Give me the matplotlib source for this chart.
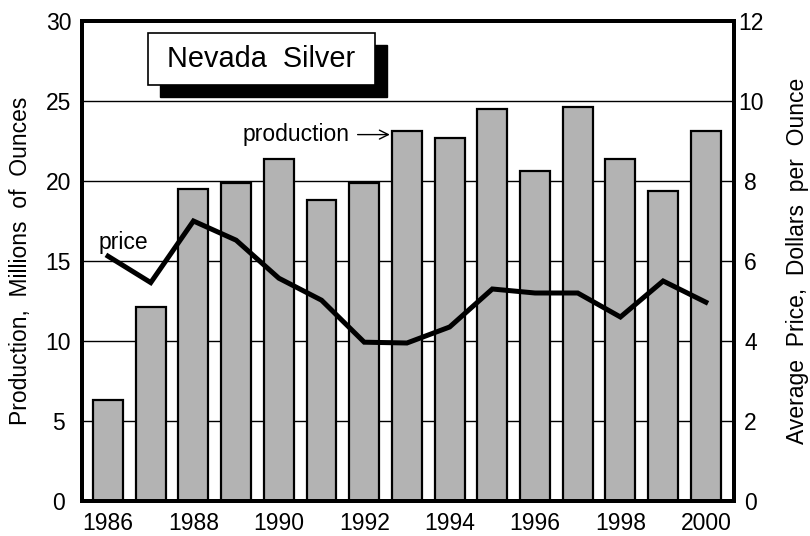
import matplotlib
matplotlib.use('Agg')
import matplotlib.pyplot as plt
from matplotlib.patches import Rectangle
import numpy as np

plt.rcParams['font.family'] = ['Liberation Sans', 'DejaVu Sans']

years = np.arange(1986, 2001)
production = [6.3, 12.1, 19.5, 19.9, 21.4, 18.8, 19.9, 23.1, 22.7, 24.5, 20.6, 24.6, 21.4, 19.4, 23.1]
price = [6.12, 5.46, 7.0, 6.52, 5.57, 5.02, 3.97, 3.95, 4.35, 5.3, 5.2, 5.2, 4.6, 5.5, 4.97]
year_ticks = [1986, 1988, 1990, 1992, 1994, 1996, 1998, 2000]

fig = plt.figure(figsize=(8.1, 5.36), dpi=100)
ax = fig.add_axes([82 / 810, 1 - 501 / 536, 652 / 810, 480 / 536])

for g in [5, 10, 15, 20, 25]:
    ax.axhline(g, color='black', lw=1.0, zorder=1)

ax.bar(years, production, width=0.7, color='#b3b3b3', edgecolor='black', lw=1.6, zorder=2)
ax.set_xlim(1985.39, 2000.66)
ax.set_ylim(0, 30)
ax.set_yticks([0, 5, 10, 15, 20, 25, 30])
ax.set_xticks(year_ticks)
ax.tick_params(axis='both', length=0, labelsize=16.5)
ax.tick_params(axis='y', pad=17)
ax.tick_params(axis='x', pad=8)
for lab in ax.get_yticklabels():
    lab.set_horizontalalignment('center')
for s in ax.spines.values():
    s.set_linewidth(2.8)
ax.set_ylabel('Production,  Millions  of  Ounces', fontsize=16.5, labelpad=10)

ax2 = ax.twinx()
ax2.plot(years, price, color='black', lw=3.6, solid_joinstyle='miter', zorder=3)
ax2.set_ylim(0, 12)
ax2.set_yticks([0, 2, 4, 6, 8, 10, 12])
ax2.tick_params(axis='y', length=0, labelsize=16.5, pad=12)
for lab in ax2.get_yticklabels():
    lab.set_horizontalalignment('center')
for s in ax2.spines.values():
    s.set_linewidth(2.8)
ax2.set_ylabel('Average  Price,  Dollars  per  Ounce', fontsize=16.5, labelpad=16)

# title box with drop shadow
bx, by, bw, bh = 0.101, 0.867, 0.348, 0.108
ax2.add_patch(Rectangle((bx + 0.019, by - 0.025), bw, bh, transform=ax2.transAxes,
                        facecolor='black', edgecolor='black', zorder=5))
ax2.add_patch(Rectangle((bx, by), bw, bh, transform=ax2.transAxes,
                        facecolor='white', edgecolor='black', lw=1.2, zorder=6))
ax2.text(bx + bw / 2, by + bh / 2, 'Nevada  Silver', transform=ax2.transAxes,
         ha='center', va='center', fontsize=20.8, zorder=7)

ax.annotate('production', xy=(1992.6, 22.9), xytext=(1991.65, 22.9),
            ha='right', va='center', fontsize=16.5, zorder=8,
            arrowprops=dict(arrowstyle='->', color='black', lw=1.0, mutation_scale=16,
                            shrinkA=4, shrinkB=0))
ax2.text(1986.36, 6.45, 'price', ha='center', va='center', fontsize=16.5, zorder=8)

fig.savefig('out.png', dpi=100)
